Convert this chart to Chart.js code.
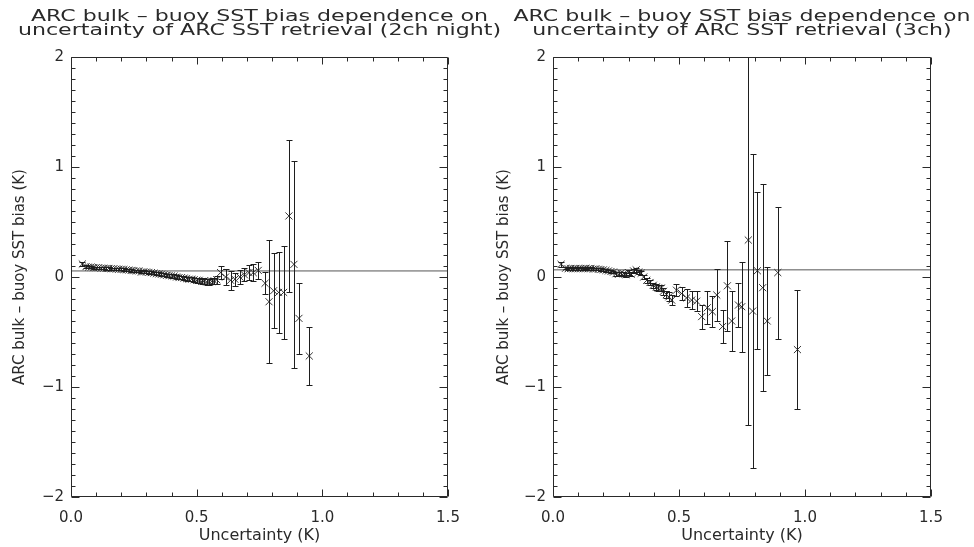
<!DOCTYPE html>
<html>
<head>
<meta charset="utf-8">
<script src="https://cdn.jsdelivr.net/npm/chart.js@4.4.0/dist/chart.umd.min.js"></script>
<style>
html, body { margin: 0; padding: 0; background: #fff; }
#wrap { position: relative; width: 974px; height: 547px; overflow: hidden; }
.box { position: absolute; top: 0; height: 547px; }
#leftBox { left: 0; width: 500px; }
#rightBox { left: 487px; width: 487px; }
</style>
</head>
<body>
<div id="wrap">
  <div class="box" id="leftBox"><canvas id="leftChart"></canvas></div>
  <div class="box" id="rightBox"><canvas id="rightChart"></canvas></div>
</div>
<script>
// axis ticks
const xMajor = [0, 0.5, 1.0, 1.5]
const yMajor = [-2, -1, 0, 1, 2]

// 2ch night
const leftUnc = [0.045,0.06,0.07,0.08,0.09,0.10,0.11,0.12,0.13,0.14,0.15,0.16,0.17,0.18,0.19,0.20,0.21,0.22,0.23,0.24,
  0.25,0.26,0.27,0.28,0.29,0.30,0.31,0.32,0.33,0.34,0.35,0.36,0.37,0.38,0.39,0.40,0.41,0.42,0.43,0.44,
  0.45,0.46,0.47,0.48,0.49,0.50,0.51,0.52,0.53,0.54,0.55,0.56,0.57,0.58,
  0.595,0.615,0.635,0.652,0.672,0.69,0.708,0.725,0.745,0.772,0.788,0.806,0.826,0.846,0.867,0.887,0.907,0.948]
const leftBias = [0.118,0.095,0.09,0.09,0.085,0.085,0.085,0.08,0.08,0.078,0.078,0.075,0.075,0.072,0.07,0.07,0.068,0.065,0.063,0.06,
  0.058,0.055,0.055,0.045,0.048,0.045,0.042,0.04,0.035,0.03,0.028,0.025,0.02,0.015,0.012,0.01,0.008,0.0,-0.005,-0.005,
  -0.01,-0.015,-0.02,-0.02,-0.025,-0.03,-0.03,-0.04,-0.035,-0.045,-0.045,-0.04,-0.035,-0.025,
  0.04,0.0,-0.03,-0.02,0.0,0.02,0.04,0.04,0.06,-0.057,-0.225,-0.125,-0.14,-0.14,0.555,0.115,-0.376,-0.718]
const leftErr = [0.015,0.01,0.01,0.01,0.01,0.01,0.01,0.01,0.01,0.01,0.01,0.01,0.01,0.01,0.01,0.01,0.01,0.01,0.01,0.01,
  0.01,0.01,0.01,0.012,0.012,0.012,0.012,0.012,0.012,0.012,0.013,0.013,0.014,0.014,0.015,0.015,0.015,0.016,0.016,0.017,
  0.018,0.018,0.02,0.02,0.02,0.022,0.022,0.024,0.025,0.025,0.027,0.028,0.03,0.035,
  0.06,0.07,0.085,0.06,0.06,0.06,0.07,0.08,0.08,0.1,0.56,0.34,0.37,0.42,0.69,0.94,0.325,0.26]
const leftMean = 0.055

// 3ch
const rightUnc = [0.032,0.05,0.06,0.07,0.08,0.09,0.10,0.11,0.12,0.13,0.14,0.15,0.16,0.17,0.18,0.19,0.20,0.21,0.22,0.23,
  0.24,0.25,0.26,0.27,0.28,0.29,0.30,0.31,0.32,0.33,0.34,0.35,0.36,
  0.372,0.385,0.398,0.41,0.418,0.43,0.438,0.45,0.46,0.471,
  0.49,0.51,0.53,0.55,0.57,0.59,0.612,0.632,0.65,0.673,0.692,0.709,0.736,0.749,0.775,0.792,0.811,0.832,0.85,0.892,0.97]
const rightBias = [0.115,0.08,0.075,0.078,0.075,0.078,0.075,0.078,0.075,0.08,0.075,0.078,0.072,0.075,0.07,0.068,0.065,0.06,0.055,0.05,
  0.045,0.03,0.025,0.035,0.03,0.02,0.04,0.025,0.055,0.065,0.045,0.035,0.0,
  -0.03,-0.05,-0.075,-0.09,-0.1,-0.1,-0.13,-0.16,-0.18,-0.21,
  -0.12,-0.15,-0.19,-0.21,-0.22,-0.36,-0.28,-0.315,-0.164,-0.45,-0.08,-0.4,-0.255,-0.27,0.336,-0.31,0.057,-0.097,-0.4,0.04,-0.66]
const rightErr = [0.025,0.01,0.01,0.01,0.01,0.01,0.01,0.01,0.01,0.01,0.01,0.01,0.01,0.01,0.01,0.01,0.01,0.01,0.01,0.01,
  0.01,0.02,0.02,0.015,0.02,0.02,0.02,0.02,0.02,0.02,0.02,0.02,0.02,
  0.02,0.02,0.025,0.025,0.03,0.03,0.03,0.035,0.04,0.045,
  0.055,0.055,0.08,0.08,0.09,0.11,0.15,0.14,0.235,0.15,0.41,0.27,0.2,0.41,1.68,1.43,0.715,0.94,0.49,0.6,0.54]
const rightMean = 0.065

const leftTitle = ['ARC bulk \u2013 buoy SST bias dependence on', 'uncertainty of ARC SST retrieval (2ch night)']
const rightTitle = ['ARC bulk \u2013 buoy SST bias dependence on', 'uncertainty of ARC SST retrieval (3ch)']

const ink = '#2a2a2a'
const fontFam = '"DejaVu Sans", sans-serif'

// IDL style box with inward ticks on all four sides
const idlFrame = {
  id: 'idlFrame',
  afterDatasetsDraw(chart) {
    const {ctx, chartArea: a, scales: {x, y}} = chart
    ctx.save()
    ctx.strokeStyle = ink
    ctx.lineWidth = 1
    const L = Math.round(a.left) + 0.5, R = Math.round(a.right) - 0.5
    const T = Math.round(a.top) + 0.5, B = Math.round(a.bottom) - 0.5
    ctx.beginPath()
    ctx.rect(L, T, R - L, B - T)
    for (let i = 0; i <= 15; i++) {
      const px = Math.round(x.getPixelForValue(i / 10)) + 0.5
      const len = i % 5 === 0 ? 7 : 4
      ctx.moveTo(px, B); ctx.lineTo(px, B - len)
      ctx.moveTo(px, T); ctx.lineTo(px, T + len)
    }
    for (let i = -20; i <= 20; i++) {
      const py = Math.round(y.getPixelForValue(i / 10)) + 0.5
      const len = i % 10 === 0 ? 8 : 4
      ctx.moveTo(L, py); ctx.lineTo(L + len, py)
      ctx.moveTo(R, py); ctx.lineTo(R - len, py)
    }
    ctx.stroke()
    ctx.restore()
  }
}

const errorBars = {
  id: 'errorBars',
  afterDatasetsDraw(chart) {
    const {ctx, chartArea: a, scales: {x, y}} = chart
    const ds = chart.data.datasets[0]
    ctx.save()
    ctx.beginPath()
    ctx.rect(a.left, a.top, a.right - a.left, a.bottom - a.top)
    ctx.clip()
    ctx.strokeStyle = '#1e1e1e'
    ctx.lineWidth = 1
    ctx.beginPath()
    ds.data.forEach((p, i) => {
      const e = ds.errors[i]
      const px = Math.round(x.getPixelForValue(p.x)) + 0.5
      const yt = Math.round(y.getPixelForValue(p.y + e)) + 0.5
      const yb = Math.round(y.getPixelForValue(p.y - e)) + 0.5
      ctx.moveTo(px, yt); ctx.lineTo(px, yb)
      ctx.moveTo(px - 3, yt); ctx.lineTo(px + 3, yt)
      ctx.moveTo(px - 3, yb); ctx.lineTo(px + 3, yb)
    })
    ctx.stroke()
    ctx.restore()
  }
}

const wideTitle = {
  id: 'wideTitle',
  afterDraw(chart, args, opts) {
    const {ctx, chartArea: a} = chart
    const cx = (a.left + a.right) / 2
    ctx.save()
    ctx.fillStyle = ink
    ctx.font = '16px ' + fontFam
    ctx.textAlign = 'center'
    ctx.textBaseline = 'middle'
    opts.lines.forEach((t, i) => {
      ctx.save()
      ctx.translate(cx, 17 + i * 13.5)
      ctx.scale(1.38, 1)
      ctx.fillText(t, 0, 0)
      ctx.restore()
    })
    ctx.restore()
  }
}

function makeChart(id, unc, bias, err, mean, title, yWidth, yTitlePad, padRight) {
  const pts = unc.map((u, i) => ({x: u, y: bias[i]}))
  return new Chart(document.getElementById(id), {
    type: 'scatter',
    data: {
      datasets: [{
        data: pts,
        errors: err,
        pointStyle: 'crossRot',
        pointRadius: 5,
        borderColor: '#333',
        backgroundColor: 'rgba(0,0,0,0)',
        borderWidth: 1
      }, {
        type: 'line',
        data: [{x: xMajor[0], y: mean}, {x: xMajor[xMajor.length - 1], y: mean}],
        borderColor: '#555',
        borderWidth: 1,
        pointRadius: 0
      }]
    },
    options: {
      responsive: true,
      maintainAspectRatio: false,
      animation: false,
      devicePixelRatio: 1,
      layout: {padding: {top: 57, left: 0, right: padRight, bottom: 0}},
      plugins: {
        legend: {display: false},
        tooltip: {enabled: false},
        title: {display: false},
        wideTitle: {lines: title}
      },
      scales: {
        x: {
          type: 'linear',
          min: xMajor[0],
          max: xMajor[xMajor.length - 1],
          afterBuildTicks: s => { s.ticks = xMajor.map(v => ({value: v})) },
          afterFit: s => { s.height = 50 },
          grid: {display: false, drawTicks: false},
          border: {display: false},
          ticks: {
            padding: 12, color: ink, maxRotation: 0, autoSkip: false,
            font: {family: fontFam, size: 15},
            callback: v => v.toFixed(1)
          },
          title: {
            display: true, text: 'Uncertainty (K)', color: ink,
            font: {family: fontFam, size: 16}, padding: {top: 0, bottom: 2}
          }
        },
        y: {
          type: 'linear',
          min: yMajor[0],
          max: yMajor[yMajor.length - 1],
          afterBuildTicks: s => { s.ticks = yMajor.map(v => ({value: v})) },
          afterFit: s => { s.width = yWidth },
          grid: {display: false, drawTicks: false},
          border: {display: false},
          ticks: {
            padding: 7, color: ink, autoSkip: false,
            font: {family: fontFam, size: 15},
            callback: v => v < 0 ? '\u2212' + Math.abs(v) : String(v)
          },
          title: {
            display: true, text: 'ARC bulk \u2013 buoy SST bias (K)', color: ink,
            font: {family: fontFam, size: 15}, padding: {top: yTitlePad, bottom: 0}
          }
        }
      }
    },
    plugins: [errorBars, idlFrame, wideTitle]
  })
}

makeChart('leftChart', leftUnc, leftBias, leftErr, leftMean, leftTitle, 71, 11, 52)
makeChart('rightChart', rightUnc, rightBias, rightErr, rightMean, rightTitle, 66, 8, 43)
</script>
</body>
</html>
